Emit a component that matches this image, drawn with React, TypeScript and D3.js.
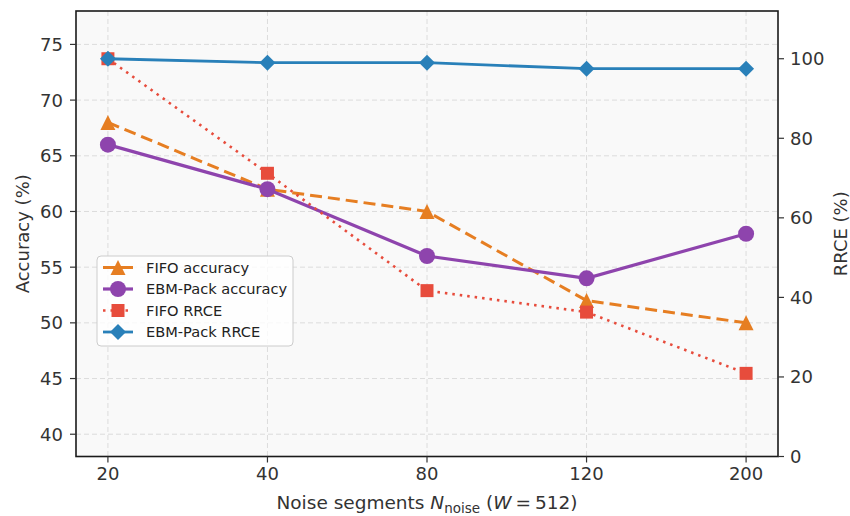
import React, { useRef, useEffect } from "react";
import * as d3 from "d3";

const categories = ["20", "40", "80", "120", "200"];
const fifoAccuracy = [68, 62, 60, 52, 50];
const ebmAccuracy = [66, 62, 56, 54, 58];
const fifoRrce = [100, 71.2, 41.7, 36.3, 20.9];
const ebmRrce = [100, 99, 99, 97.5, 97.5];
const accTicks = [40, 45, 50, 55, 60, 65, 70, 75];
const rrceTicks = [0, 20, 40, 60, 80, 100];

const ORANGE = "#e67e22";
const PURPLE = "#8e44ad";
const RED = "#e74c3c";
const BLUE = "#2980b9";
const FONT = "'DejaVu Sans', sans-serif";

// marker paths centred on (0,0)
const markerPath = (kind: string) => {
  if (kind === "triangle") return "M0,-7.5L7.5,7.5L-7.5,7.5Z";
  if (kind === "square") return "M-6.5,-6.5H6.5V6.5H-6.5Z";
  if (kind === "diamond") return "M0,-8L8,0L0,8L-8,0Z";
  return "";
};

const App = () => {
  const ref = useRef<SVGSVGElement>(null);

  useEffect(() => {
    const W = 850;
    const H = 516;
    const margin = { top: 11, right: 72, bottom: 59.5, left: 76 };
    const x0 = margin.left;
    const x1 = W - margin.right;
    const y0 = H - margin.bottom;
    const y1 = margin.top;

    const svg = d3.select(ref.current);
    svg.selectAll("*").remove();

    const x = d3.scalePoint<string>().domain(categories).range([x0, x1]).padding(0.2);
    const yL = d3.scaleLinear().domain([38, 78]).range([y0, y1]);
    const yR = d3.scaleLinear().domain([0, 112]).range([y0, y1]);

    svg.append("rect").attr("width", W).attr("height", H).attr("fill", "#fff");
    svg
      .append("rect")
      .attr("x", x0)
      .attr("y", y1)
      .attr("width", x1 - x0)
      .attr("height", y0 - y1)
      .attr("fill", "#f9f9f9");

    // grid
    const grid = svg.append("g").attr("stroke", "#dcdcdc").attr("stroke-width", 1).attr("stroke-dasharray", "5,3");
    accTicks.forEach((t) => {
      grid.append("line").attr("x1", x0).attr("x2", x1).attr("y1", yL(t)).attr("y2", yL(t));
    });
    categories.forEach((c) => {
      grid.append("line").attr("x1", x(c)!).attr("x2", x(c)!).attr("y1", y1).attr("y2", y0);
    });

    const lineL = d3
      .line<number>()
      .x((d, i) => x(categories[i])!)
      .y((d) => yL(d));
    const lineR = d3
      .line<number>()
      .x((d, i) => x(categories[i])!)
      .y((d) => yR(d));

    const series = [
      { data: fifoAccuracy, line: lineL, y: yL, color: ORANGE, dash: "12,6", width: 3, marker: "triangle" },
      { data: ebmAccuracy, line: lineL, y: yL, color: PURPLE, dash: null, width: 3.2, marker: "circle" },
      { data: fifoRrce, line: lineR, y: yR, color: RED, dash: "2.5,5", width: 2.6, marker: "square" },
      { data: ebmRrce, line: lineR, y: yR, color: BLUE, dash: null, width: 2.8, marker: "diamond" },
    ];

    const drawMarker = (g: any, kind: string, cx: number, cy: number, color: string) => {
      if (kind === "circle") {
        g.append("circle").attr("cx", cx).attr("cy", cy).attr("r", 8).attr("fill", color);
      } else {
        g.append("path")
          .attr("d", markerPath(kind))
          .attr("transform", `translate(${cx},${cy})`)
          .attr("fill", color);
      }
    };

    series.forEach((s) => {
      const g = svg.append("g");
      g.append("path")
        .attr("d", s.line(s.data))
        .attr("fill", "none")
        .attr("stroke", s.color)
        .attr("stroke-width", s.width)
        .attr("stroke-dasharray", s.dash);
      s.data.forEach((d, i) => drawMarker(g, s.marker, x(categories[i])!, s.y(d), s.color));
    });

    // spines
    svg
      .append("rect")
      .attr("x", x0)
      .attr("y", y1)
      .attr("width", x1 - x0)
      .attr("height", y0 - y1)
      .attr("fill", "none")
      .attr("stroke", "#1a1a1a")
      .attr("stroke-width", 1.6);

    const tickColor = "#333";
    const axes = svg.append("g").attr("font-family", FONT).attr("font-size", 18).attr("fill", tickColor);

    accTicks.forEach((t) => {
      axes.append("line").attr("x1", x0 - 6).attr("x2", x0).attr("y1", yL(t)).attr("y2", yL(t)).attr("stroke", tickColor).attr("stroke-width", 1.2);
      axes.append("text").attr("x", x0 - 13).attr("y", yL(t)).attr("dy", "0.36em").attr("text-anchor", "end").text(t);
    });
    rrceTicks.forEach((t) => {
      axes.append("line").attr("x1", x1).attr("x2", x1 + 6).attr("y1", yR(t)).attr("y2", yR(t)).attr("stroke", tickColor).attr("stroke-width", 1.2);
      axes.append("text").attr("x", x1 + 12).attr("y", yR(t)).attr("dy", "0.36em").attr("text-anchor", "start").text(t);
    });
    categories.forEach((c) => {
      axes.append("line").attr("x1", x(c)!).attr("x2", x(c)!).attr("y1", y0).attr("y2", y0 + 6).attr("stroke", tickColor).attr("stroke-width", 1.2);
      axes.append("text").attr("x", x(c)!).attr("y", y0 + 23).attr("text-anchor", "middle").text(c);
    });

    // axis labels
    axes
      .append("text")
      .attr("transform", `translate(29,${(y0 + y1) / 2}) rotate(-90)`)
      .attr("text-anchor", "middle")
      .text("Accuracy (%)");
    axes
      .append("text")
      .attr("transform", `translate(847,${(y0 + y1) / 2}) rotate(-90)`)
      .attr("text-anchor", "middle")
      .text("RRCE (%)");

    const xl = axes
      .append("text")
      .attr("x", (x0 + x1) / 2)
      .attr("y", 509)
      .attr("font-size", 18.5)
      .attr("text-anchor", "middle");
    xl.append("tspan").text("Noise segments ");
    xl.append("tspan").attr("font-style", "italic").text("N");
    xl.append("tspan").attr("font-size", 13.5).attr("dy", 4).text("noise");
    xl.append("tspan").attr("dy", -4).text(" (");
    xl.append("tspan").attr("font-style", "italic").text("W");
    xl.append("tspan").attr("dx", 4).text("=");
    xl.append("tspan").attr("dx", 4).text("512)");

    // legend
    const lg = svg.append("g");
    lg.append("rect")
      .attr("x", 97)
      .attr("y", 256)
      .attr("width", 196)
      .attr("height", 90)
      .attr("rx", 4)
      .attr("fill", "#fff")
      .attr("fill-opacity", 0.8)
      .attr("stroke", "#cccccc")
      .attr("stroke-width", 1);
    const labels = ["FIFO accuracy", "EBM-Pack accuracy", "FIFO RRCE", "EBM-Pack RRCE"];
    series.forEach((s, i) => {
      const ly = 267.5 + i * 21.5;
      lg.append("line")
        .attr("x1", 103)
        .attr("x2", 133)
        .attr("y1", ly)
        .attr("y2", ly)
        .attr("stroke", s.color)
        .attr("stroke-width", s.width)
        .attr("stroke-dasharray", s.dash);
      drawMarker(lg, s.marker, 118, ly, s.color);
      lg.append("text")
        .attr("x", 146)
        .attr("y", ly)
        .attr("dy", "0.36em")
        .attr("font-family", FONT)
        .attr("font-size", 14.6)
        .attr("fill", "#222")
        .text(labels[i]);
    });
  }, []);

  return (
    <svg
      ref={ref}
      width={850}
      height={516}
      style={{ position: "absolute", left: 0, top: 0, display: "block" }}
    />
  );
};

export default App;
